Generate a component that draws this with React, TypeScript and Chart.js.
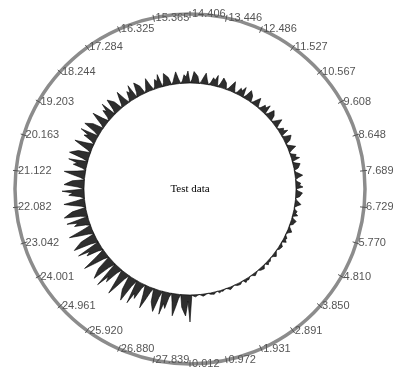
import { useEffect, useRef } from "react";
import { Chart, registerables } from "chart.js";

Chart.register(...registerables);

const TITLE = "Test data";

const TICK_LABELS = [
  "0.012", "0.972", "1.931", "2.891", "3.850", "4.810", "5.770", "6.729",
  "7.689", "8.648", "9.608", "10.567", "11.527", "12.486", "13.446", "14.406",
  "15.365", "16.325", "17.284", "18.244", "19.203", "20.163", "21.122", "22.082",
  "23.042", "24.001", "24.961", "25.920", "26.880", "27.839",
];

// signal samples, in order of position (0.012 ... 28.8), read around the circle
const SIGNAL = [
  27, 0, 1.2, 2, 0.8,
  0, 0.8, 2, 1.3, 0.4,
  0, 1.2, 1.6, 2, 0.5,
  0, 2, 1, 1.4, 0.3,
  0, 1, 2.5, 1.5, 0.5,
  0, 1.4, 1.8, 2, 0.6,
  0, 3, 1.5, 2.1, 0.6,
  0, 1, 2.5, 1.5, 0.5,
  0, 1.8, 2.4, 3, 0.9,
  0, 3, 1.5, 2.1, 0.6,
  0, 1.4, 3.5, 2.1, 0.7,
  0, 1.8, 2.4, 3, 0.9,
  0, 4, 2, 2.8, 0.8,
  0, 1.8, 4.5, 2.7, 0.9,
  0, 3, 4, 5, 1.5,
  0, 5, 2.5, 3.5, 1,
  0, 2.4, 6, 3.6, 1.2,
  0, 3.9, 5.2, 6.5, 2,
  0, 7, 3.5, 4.9, 1.4,
  0, 3, 7.5, 4.5, 1.5,
  0, 4.2, 5.6, 7, 2.1,
  0, 8, 4, 5.6, 1.6,
  0, 3.2, 8, 4.8, 1.6,
  0, 5.1, 6.8, 8.5, 2.5,
  0, 8, 4, 5.6, 1.6,
  0, 3.6, 9, 5.4, 1.8,
  0, 5.4, 7.2, 9, 2.7,
  0, 9.5, 4.8, 6.6, 1.9,
  0, 3.6, 9, 5.4, 1.8,
  0, 6, 8, 10, 3,
  0, 10, 5, 7, 2,
  0, 4.2, 10.5, 6.3, 2.1,
  0, 6, 8, 10, 3,
  0, 11, 5.5, 7.7, 2.2,
  0, 4.4, 11, 6.6, 2.2,
  0, 6.9, 9.2, 11.5, 3.4,
  0, 12, 6, 8.4, 2.4,
  0, 4.8, 12, 7.2, 2.4,
  0, 7.5, 10, 12.5, 3.7,
  0, 13, 6.5, 9.1, 2.6,
  0, 5.2, 13, 7.8, 2.6,
  0, 8.4, 11.2, 14, 4.2,
  0, 14.5, 7.2, 10.1, 2.9,
  0, 6, 15, 9, 3,
  0, 9.3, 12.4, 15.5, 4.6,
  0, 16, 8, 11.2, 3.2,
  0, 6.8, 17, 10.2, 3.4,
  0, 10.8, 14.4, 18, 5.4,
  0, 18.5, 9.2, 12.9, 3.7,
  0, 7.6, 19, 11.4, 3.8,
  0, 12, 16, 20, 6,
  0, 19, 9.5, 13.3, 3.8,
  0, 8.4, 21, 12.6, 4.2,
  0, 12, 16, 20, 6,
  0, 22, 11, 15.4, 4.4,
  0, 8.4, 21, 12.6, 4.2,
  0, 13.8, 18.4, 23, 6.9,
  0, 22, 11, 15.4, 4.4,
  0, 9.6, 24, 14.4, 4.8,
  0, 15, 20, 25, 7.5,
  0, 24, 12, 16.8, 4.8,
  0, 10.4, 26, 15.6, 5.2,
  0, 15, 20, 25, 7.5,
  0, 27, 13.5, 18.9, 5.4,
  0, 10.4, 26, 15.6, 5.2,
  0, 15, 20, 25, 7.5,
  0, 24, 12, 16.8, 4.8,
  0, 9.2, 23, 13.8, 4.6,
  0, 13.2, 17.6, 22, 6.6,
  0, 23, 11.5, 16.1, 4.6,
  0, 8.8, 22, 13.2, 4.4,
  0, 12.6, 16.8, 21, 6.3,
];

const N = SIGNAL.length;
const SAMPLES_PER_TICK = N / TICK_LABELS.length;
const R_MIN = -106;
const R_MAX = 69;

// radar goes clockwise; the reference runs counter-clockwise from the bottom
const chartIndexOf = (j: number) => (N - j) % N;
const chartData = Array.from({ length: N }, (_, k) => SIGNAL[(N - k) % N]);
const chartLabels = Array.from({ length: N }, () => "");

const overlayPlugin = {
  id: "overlay",
  afterDatasetsDraw(chart: any) {
    const s = chart.scales.r;
    const ctx = chart.ctx;
    ctx.save();
    ctx.fillStyle = "#000";
    ctx.font = '11px "Liberation Serif"';
    ctx.textAlign = "center";
    ctx.textBaseline = "middle";
    ctx.fillText(TITLE, s.xCenter, s.yCenter);

    ctx.font = '11px "Liberation Sans"';
    ctx.textAlign = "left";
    TICK_LABELS.forEach((lab, i) => {
      const k = chartIndexOf(i * SAMPLES_PER_TICK);
      const a = s.getPointPositionForValue(k, R_MAX - 4);
      const b = s.getPointPositionForValue(k, R_MAX + 3);
      ctx.strokeStyle = "#555";
      ctx.lineWidth = 1;
      ctx.beginPath();
      ctx.moveTo(a.x, a.y);
      ctx.lineTo(b.x, b.y);
      ctx.stroke();
      const p = s.getPointPositionForValue(k, R_MAX);
      ctx.fillStyle = "#555";
      ctx.fillText(lab, p.x + 2, p.y);
    });
    ctx.restore();
  },
};

export default function App() {
  const ref = useRef<HTMLCanvasElement | null>(null);
  useEffect(() => {
    if (!ref.current) return;
    const chart = new Chart(ref.current, {
      type: "radar",
      data: {
        labels: chartLabels,
        datasets: [
          {
            data: chartData,
            fill: "origin",
            backgroundColor: "rgba(0,0,0,0.82)",
            borderColor: "#000",
            borderWidth: 0.6,
            pointRadius: 0,
            pointHoverRadius: 0,
            tension: 0,
          },
        ],
      },
      options: {
        animation: false,
        responsive: true,
        maintainAspectRatio: false,
        layout: { padding: { left: 14, right: 27, top: 14, bottom: 8 } },
        plugins: { legend: { display: false }, tooltip: { enabled: false } },
        scales: {
          r: {
            min: R_MIN,
            max: R_MAX,
            startAngle: 180,
            angleLines: { display: false },
            pointLabels: { display: false },
            ticks: { display: false },
            grid: {
              circular: true,
              color: (c: any) => (c.tick && c.tick.value === R_MAX ? "#8c8c8c" : "#666"),
              lineWidth: (c: any) => (c.tick && c.tick.value === R_MAX ? 3.5 : 1),
            },
            afterBuildTicks: (scale: any) => {
              scale.ticks = [{ value: 0 }, { value: R_MAX }];
            },
          } as any,
        },
      },
      plugins: [overlayPlugin],
    });
    return () => chart.destroy();
  }, []);
  return (
    <div style={{ position: "fixed", left: 0, top: 0, width: 393, height: 372 }}>
      <canvas ref={ref} />
    </div>
  );
}
